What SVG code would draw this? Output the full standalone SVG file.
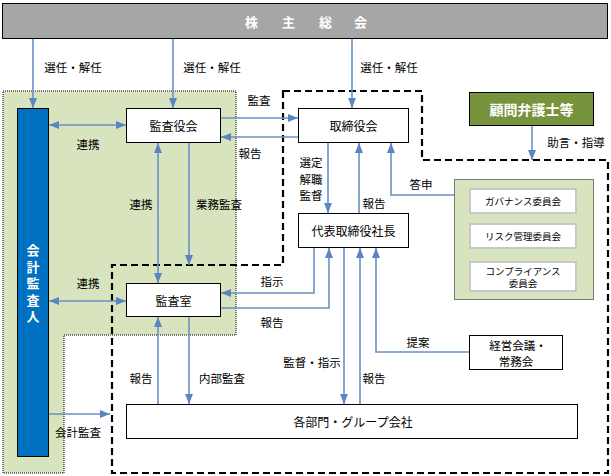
<svg xmlns="http://www.w3.org/2000/svg" width="611" height="476" viewBox="0 0 611 476">
<style>
text{font-family:"Noto Sans CJK JP","Noto Sans",sans-serif;fill:#000;dominant-baseline:central;text-anchor:middle}
.box{fill:#fff;stroke:#000;stroke-width:1}
.lbl{font-size:11.5px}
.bl{font-size:12px}
.wb{fill:#fff;font-weight:bold}
.cm{fill:#fff;stroke:#C8C8C8;stroke-width:2}
.cmt{font-size:9.5px}
.ln{fill:none;stroke:#6890C8;stroke-width:1.6}
.a{marker-end:url(#ah)}
.d{marker-start:url(#ah);marker-end:url(#ah)}
</style>
<defs>
<marker id="ah" markerUnits="userSpaceOnUse" markerWidth="10" markerHeight="10" viewBox="0 0 10 10" refX="10" refY="5" orient="auto-start-reverse">
<path d="M0,1 L10,5 L0,9 z" fill="#5A84C2"/>
</marker>
</defs>

<g id="region-audit">
<path d="M3,91 H236 V335 H64 V473 H3 Z" fill="#D7E4BD" stroke="#000" stroke-width="1" stroke-dasharray="1,1"/>
</g>
<g id="region-board">
<path d="M283,91 H422 V160 H608 V473 H112 V265 H283 Z" fill="none" stroke="#000" stroke-width="2.2" stroke-dasharray="7,4"/>
</g>

<g id="shareholders">
<rect x="2.5" y="3.5" width="605" height="35" fill="#A6A6A6" stroke="#000" stroke-width="1"/>
<text class="wb" style="font-size:13px;text-anchor:start" x="245 282 319 354" y="21">株主総会</text>
</g>

<g id="accounting-auditor">
<rect x="17.5" y="108.5" width="31" height="348" fill="#0070C0" stroke="#000" stroke-width="1"/>
<text class="wb" style="font-size:13px;writing-mode:tb;letter-spacing:3.6px;dominant-baseline:auto" x="33" y="285">会計監査人</text>
</g>

<g id="audit-board">
<rect class="box" x="126.5" y="108.5" width="94" height="34"/>
<text class="bl" x="173.5" y="125.5">監査役会</text>
</g>

<g id="board">
<rect class="box" x="298.5" y="108.5" width="110" height="34"/>
<text class="bl" x="353.5" y="125.5">取締役会</text>
</g>

<g id="president">
<rect class="box" x="298.5" y="213.5" width="110" height="34"/>
<text class="bl" x="353.5" y="230.5">代表取締役社長</text>
</g>

<g id="legal-advisors">
<rect x="469.5" y="92.5" width="124" height="33" fill="#77933C" stroke="#000" stroke-width="1"/>
<text class="wb" style="font-size:14px" x="531.5" y="109">顧問弁護士等</text>
</g>

<g id="committees">
<rect x="454.5" y="179.5" width="139" height="120" fill="#D7E4BD" stroke="#000" stroke-width="1" stroke-dasharray="1,1"/>
<g id="governance-committee">
<rect class="cm" x="470" y="189" width="106" height="24"/>
<text class="cmt" x="523" y="201">ガバナンス委員会</text>
</g>
<g id="risk-committee">
<rect class="cm" x="470" y="224" width="106" height="24"/>
<text class="cmt" x="523" y="236">リスク管理委員会</text>
</g>
<g id="compliance-committee">
<rect class="cm" x="470" y="262" width="106" height="29"/>
<text class="cmt" x="523" y="270.5">コンプライアンス<tspan x="523" dy="12.5">委員会</tspan></text>
</g>
</g>

<g id="audit-office">
<rect class="box" x="126.5" y="283.5" width="94" height="33"/>
<text class="bl" x="173.5" y="300">監査室</text>
</g>

<g id="management-meeting">
<rect class="box" x="469.5" y="335.5" width="93" height="34"/>
<text class="lbl" x="518" y="345">経営会議・<tspan x="516" dy="16">常務会</tspan></text>
</g>

<g id="departments">
<rect class="box" x="126.5" y="404.5" width="451" height="34"/>
<text class="bl" x="353" y="421.5">各部門・グループ会社</text>
</g>

<g id="connectors">
<path class="ln a" d="M33,39 V108"/>
<path class="ln a" d="M173,39 V108"/>
<path class="ln a" d="M352,39 V108"/>
<path class="ln d" d="M49,125 H126"/>
<path class="ln a" d="M221,118 H298"/>
<path class="ln a" d="M298,137 H221"/>
<path class="ln d" d="M158,143 V283"/>
<path class="ln a" d="M189,143 V265"/>
<path class="ln a" d="M328,143 V213"/>
<path class="ln a" d="M359,213 V143"/>
<path class="ln a" d="M454,195 H391 V143"/>
<path class="ln a" d="M532,126 V160"/>
<path class="ln a" d="M314,248 V293 H221"/>
<path class="ln a" d="M221,308 H329 V248"/>
<path class="ln a" d="M344,248 V404"/>
<path class="ln a" d="M360,404 V248"/>
<path class="ln a" d="M469,352 H376 V248"/>
<path class="ln d" d="M49,301 H126"/>
<path class="ln a" d="M158,404 V317"/>
<path class="ln a" d="M189,317 V404"/>
<path class="ln a" d="M49,414 H110"/>
</g>

<g id="labels">
<text class="lbl" x="73" y="67">選任・解任</text>
<text class="lbl" x="212" y="67">選任・解任</text>
<text class="lbl" x="389" y="67">選任・解任</text>
<text class="lbl" x="259" y="100">監査</text>
<text class="lbl" x="250" y="153">報告</text>
<text class="lbl" x="88" y="144">連携</text>
<text class="lbl" x="141" y="204">連携</text>
<text class="lbl" x="219" y="204">業務監査</text>
<text class="lbl" x="311" y="162">選定</text>
<text class="lbl" x="311" y="179">解職</text>
<text class="lbl" x="311" y="195">監督</text>
<text class="lbl" x="374" y="203">報告</text>
<text class="lbl" x="421" y="184">答申</text>
<text class="lbl" x="576" y="142">助言・指導</text>
<text class="lbl" x="272" y="281">指示</text>
<text class="lbl" x="272" y="322">報告</text>
<text class="lbl" x="88" y="283">連携</text>
<text class="lbl" x="141" y="378">報告</text>
<text class="lbl" x="222" y="378">内部監査</text>
<text class="lbl" x="312" y="362">監督・指示</text>
<text class="lbl" x="374" y="378">報告</text>
<text class="lbl" x="418" y="342">提案</text>
<text class="lbl" x="78" y="432">会計監査</text>
</g>
</svg>
